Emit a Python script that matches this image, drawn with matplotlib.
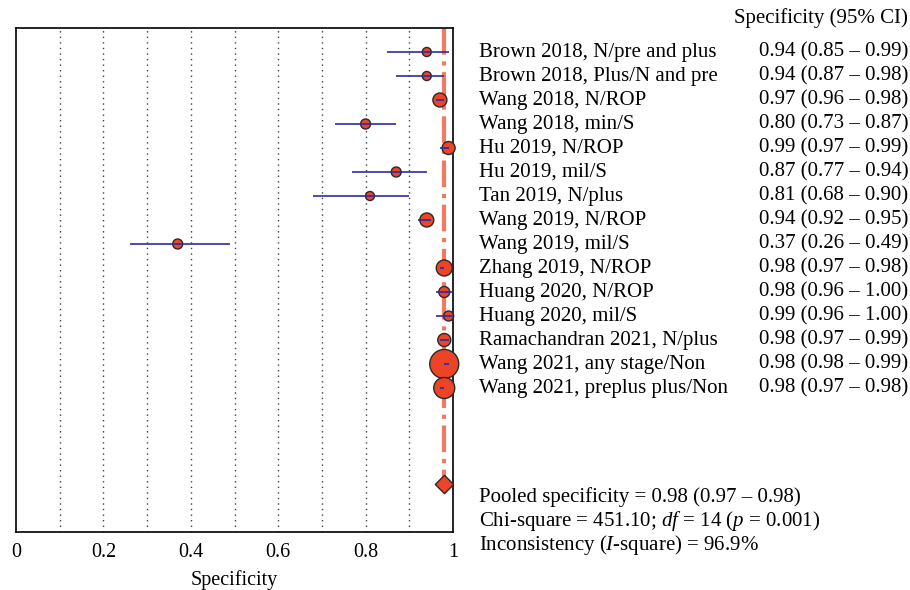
import matplotlib.pyplot as plt
import matplotlib.transforms as mtransforms
import numpy as np

plt.rcParams['font.family'] = 'Liberation Serif'
plt.rcParams['mathtext.fontset'] = 'custom'
plt.rcParams['mathtext.rm'] = 'Liberation Serif'
plt.rcParams['mathtext.it'] = 'Liberation Serif:italic'

# study data
studies = ['Brown 2018, N/pre and plus', 'Brown 2018, Plus/N and pre',
           'Wang 2018, N/ROP', 'Wang 2018, min/S', 'Hu 2019, N/ROP',
           'Hu 2019, mil/S', 'Tan 2019, N/plus', 'Wang 2019, N/ROP',
           'Wang 2019, mil/S', 'Zhang 2019, N/ROP', 'Huang 2020, N/ROP',
           'Huang 2020, mil/S', 'Ramachandran 2021, N/plus',
           'Wang 2021, any stage/Non', 'Wang 2021, preplus plus/Non']
spec = [0.94, 0.94, 0.97, 0.80, 0.99, 0.87, 0.81, 0.94, 0.37, 0.98,
        0.98, 0.99, 0.98, 0.98, 0.98]
lower = [0.85, 0.87, 0.96, 0.73, 0.97, 0.77, 0.68, 0.92, 0.26, 0.97,
         0.96, 0.96, 0.97, 0.98, 0.97]
upper = [0.99, 0.98, 0.98, 0.87, 0.99, 0.94, 0.90, 0.95, 0.49, 0.98,
         1.00, 1.00, 0.99, 0.99, 0.98]
# relative study weights (marker diameter, px)
weight = [9, 9, 14, 10, 13, 10, 9, 14, 10, 16, 11, 10, 13, 29, 21]

pooled = 0.98
pooled_lo = 0.97
pooled_hi = 0.98
chi2 = 451.10
dof = 14
pval = 0.001
i2 = 96.9

fig = plt.figure(figsize=(9.1, 5.9), dpi=100)
ax = fig.add_axes([16 / 910, 1 - 532 / 590, 437 / 910, 504 / 590])

rows = np.arange(len(studies))
pooled_row = 18

# grid
for gx in np.arange(0.1, 1.0, 0.1):
    ax.axvline(gx, color='0.25', linestyle=(0, (1, 3)), linewidth=1, zorder=0)

# pooled reference line
ax.plot([pooled, pooled], [-1, pooled_row], color='#F07A62',
        linestyle='-.', linewidth=3, zorder=1)

sizes = (np.array(weight) * 0.72) ** 2
ax.scatter(spec, rows, s=sizes, color='#EE4426', edgecolor='#2a2a2a',
           linewidth=1, zorder=3, clip_on=False)
ax.hlines(rows, lower, upper, color='#2B2BA6', linewidth=1.2, zorder=4)
ax.scatter([pooled], [pooled_row], marker='D', s=(13 * 0.72) ** 2,
           color='#EE4426', edgecolor='#2a2a2a', linewidth=1, zorder=3)

ax.set_xlim(0, 1)
ax.set_ylim(20, -1)
ax.set_yticks([])
ax.set_xticks(np.arange(0, 1.01, 0.2))
ax.set_xticklabels(['0', '0.2', '0.4', '0.6', '0.8', '1'], fontsize=14.5)
ax.tick_params(axis='x', length=0, pad=8)
ax.set_xlabel('Specificity', fontsize=14.5, labelpad=6)
for sp in ax.spines.values():
    sp.set_linewidth(1.2)

trans = mtransforms.blended_transform_factory(fig.transFigure, ax.transData)
lab_x = 479 / 910
val_x = 759 / 910
fs = 15
ax.text(908 / 910, -1.42, 'Specificity (95% CI)', transform=trans,
        ha='right', va='center', fontsize=fs, clip_on=False)
for r, name, s, lo, hi in zip(rows, studies, spec, lower, upper):
    ax.text(lab_x, r, name, transform=trans, ha='left', va='center',
            fontsize=fs, clip_on=False)
    ax.text(val_x, r, f'{s:.2f} ({lo:.2f} \u2013 {hi:.2f})', transform=trans,
            ha='left', va='center', fontsize=fs, clip_on=False)

ax.text(lab_x, 18.55, f'Pooled specificity = {pooled:.2f} ({pooled_lo:.2f} \u2013 {pooled_hi:.2f})',
        transform=trans, ha='left', va='center', fontsize=fs, clip_on=False)
ax.text(lab_x, 19.55, f'Chi-square = {chi2:.2f}; $df$ = {dof} ($p$ = {pval})',
        transform=trans, ha='left', va='center', fontsize=fs, clip_on=False)
ax.text(lab_x, 20.55, f'Inconsistency ($I$-square) = {i2}%',
        transform=trans, ha='left', va='center', fontsize=fs, clip_on=False)

fig.savefig('out.png', dpi=100)
